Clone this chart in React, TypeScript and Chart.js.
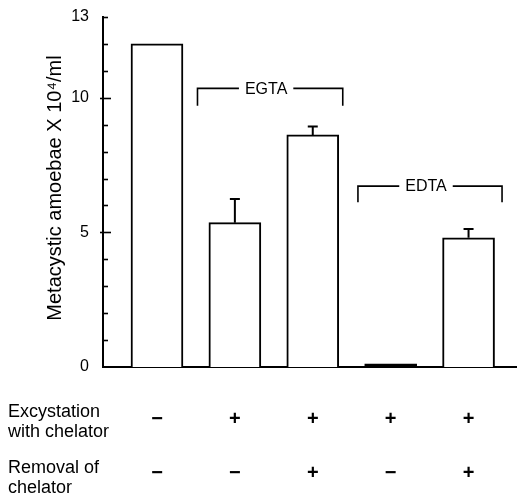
import React, { useEffect, useRef } from "react";
import { Chart, registerables } from "chart.js";

Chart.register(...registerables);

// ---- data ----
const barPositions = [1, 2, 3, 4, 5];
const barValues = [12.0, 5.36, 8.62, 0.12, 4.8];
const errorValues = [0, 0.88, 0.31, 0, 0.33];
const excystationWithChelator = ["−", "+", "+", "+", "+"];
const removalOfChelator = ["−", "−", "+", "−", "+"];
const yTickLabels = [0, 5, 10, 13];
const yMajorTicks = [5, 10];
const bracketLabels = ["EGTA", "EDTA"];
const bracketStart = [1.52, 3.58];
const bracketEnd = [3.385, 5.43];
const bracketTop = [10.35, 6.72];
const bracketBottom = [9.7, 6.12];
const rowLabels = [["Excystation", "with chelator"], ["Removal of", "chelator"]];
const yTitle = "Metacystic amoebae X 10⁴/ml";

const FONT = "'Liberation Sans', Arial, Helvetica, sans-serif";

const annotationPlugin = {
  id: "annotations",
  afterDatasetsDraw(chart: any) {
    const { ctx, scales } = chart;
    const xs = scales.x;
    const ys = scales.y;
    const axisX = chart.chartArea.left;
    ctx.save();
    ctx.strokeStyle = "#000";
    ctx.fillStyle = "#000";
    ctx.lineCap = "butt";

    // y ticks (inward minor, major across)
    ctx.lineWidth = 1.6;
    for (let v = 1; v <= 13; v++) {
      const y = Math.round(ys.getPixelForValue(v)) + 0.5;
      const major = yMajorTicks.includes(v);
      ctx.beginPath();
      ctx.moveTo(major ? axisX - 3 : axisX, y);
      ctx.lineTo(major ? axisX + 8 : axisX + 5, y);
      ctx.stroke();
    }

    // y title
    ctx.save();
    ctx.font = `20px ${FONT}`;
    ctx.textAlign = "center";
    ctx.textBaseline = "middle";
    ctx.translate(55, 188);
    ctx.rotate(-Math.PI / 2);
    ctx.fillText(yTitle, 0, 0);
    ctx.restore();

    // error bars
    ctx.lineWidth = 2;
    barPositions.forEach((p, i) => {
      if (!errorValues[i]) return;
      const x = xs.getPixelForValue(p);
      const y0 = ys.getPixelForValue(barValues[i]);
      const y1 = ys.getPixelForValue(barValues[i] + errorValues[i]);
      ctx.beginPath();
      ctx.moveTo(x, y0);
      ctx.lineTo(x, y1);
      ctx.moveTo(x - 5, y1);
      ctx.lineTo(x + 5, y1);
      ctx.stroke();
    });

    // brackets
    ctx.font = `16px ${FONT}`;
    ctx.textAlign = "center";
    ctx.textBaseline = "middle";
    ctx.lineWidth = 1.6;
    bracketLabels.forEach((label, i) => {
      const x0 = xs.getPixelForValue(bracketStart[i]);
      const x1 = xs.getPixelForValue(bracketEnd[i]);
      const yt = ys.getPixelForValue(bracketTop[i]);
      const yb = ys.getPixelForValue(bracketBottom[i]);
      const cx = (x0 + x1) / 2 - 4;
      const w = ctx.measureText(label).width;
      ctx.beginPath();
      ctx.moveTo(x0, yb);
      ctx.lineTo(x0, yt);
      ctx.lineTo(cx - w / 2 - 6, yt);
      ctx.moveTo(cx + w / 2 + 6, yt);
      ctx.lineTo(x1, yt);
      ctx.lineTo(x1, yb);
      ctx.stroke();
      ctx.fillText(label, cx, yt + 1);
    });

    // row labels
    ctx.font = `18px ${FONT}`;
    ctx.textAlign = "left";
    ctx.textBaseline = "alphabetic";
    const rowBase = [417, 473];
    rowLabels.forEach((lines, r) => {
      lines.forEach((t, k) => ctx.fillText(t, 8, rowBase[r] + k * 20));
    });

    // signs
    ctx.font = `bold 20px ${FONT}`;
    ctx.textAlign = "center";
    ctx.textBaseline = "middle";
    const rowMid = [419, 473];
    [excystationWithChelator, removalOfChelator].forEach((row, r) => {
      row.forEach((s, i) => {
        const x = xs.getPixelForValue(barPositions[i]);
        ctx.fillText(s, x, rowMid[r]);
      });
    });
    ctx.restore();
  },
};

export default function App() {
  const ref = useRef<HTMLCanvasElement>(null);
  useEffect(() => {
    if (!ref.current) return;
    const chart = new Chart(ref.current, {
      type: "bar",
      data: {
        datasets: [
          {
            data: barPositions.map((p, i) => ({ x: p, y: barValues[i] })),
            backgroundColor: barValues.map((v) => (v < 0.5 ? "#000" : "#fff")),
            borderColor: "#000",
            borderWidth: 2,
            barThickness: 52,
          },
        ],
      },
      options: {
        responsive: false,
        animation: false,
        layout: { padding: { top: 17, right: 0, left: 0, bottom: 0 } },
        plugins: { legend: { display: false }, tooltip: { enabled: false } },
        scales: {
          x: {
            type: "linear",
            min: 0.307,
            max: 5.622,
            offset: false,
            grid: { display: false, offset: false },
            border: { display: true, color: "#000", width: 2 },
            ticks: { display: false },
            afterFit: (s: any) => {
              s.height = 126;
              s.paddingLeft = 0;
              s.paddingRight = 0;
            },
          },
          y: {
            min: 0,
            max: 13,
            grid: { display: false, drawTicks: false },
            border: { display: true, color: "#000", width: 2 },
            ticks: {
              stepSize: 1,
              autoSkip: false,
              padding: 14,
              color: "#000",
              font: { family: FONT, size: 16 },
              callback: (v: any) => (yTickLabels.includes(Number(v)) ? String(v) : ""),
            },
            afterFit: (s: any) => {
              s.width = 103;
              s.paddingTop = 0;
              s.paddingBottom = 0;
            },
          },
        },
      },
      plugins: [annotationPlugin],
    });
    return () => chart.destroy();
  }, []);
  return (
    <canvas
      ref={ref}
      width={517}
      height={493}
      style={{ position: "fixed", left: 0, top: 0, width: 517, height: 493, background: "#fff" }}
    />
  );
}
